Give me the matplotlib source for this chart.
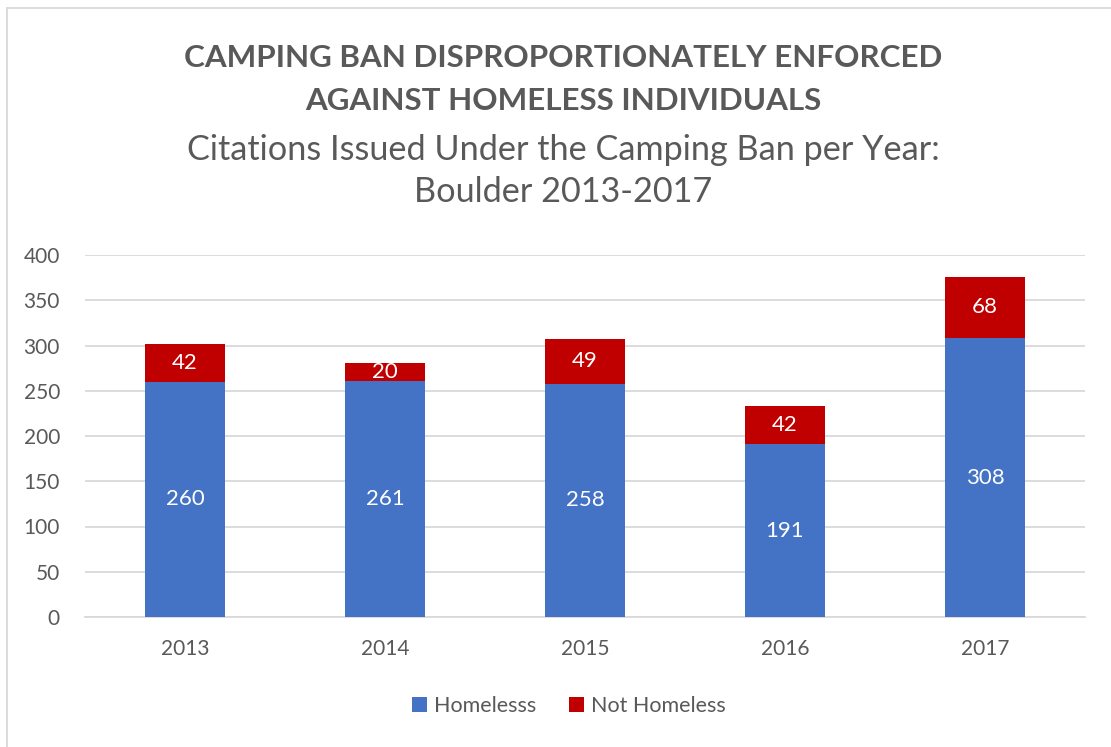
import matplotlib.pyplot as plt
from matplotlib.lines import Line2D

plt.rcParams['font.family'] = ['Lato', 'DejaVu Sans']

years = ['2013', '2014', '2015', '2016', '2017']
homeless = [260, 261, 258, 191, 308]
not_homeless = [42, 20, 49, 42, 68]

blue = '#4472C4'
red = '#C00000'
grey = '#595959'

fig = plt.figure(figsize=(11.11, 7.47), dpi=100)
ax = fig.add_axes([85 / 1111, 1 - 617 / 747, 1000 / 1111, (617 - 255) / 747])

x = range(len(years))
b1 = ax.bar(x, homeless, width=0.4, color=blue, label='Homelesss', zorder=3)
b2 = ax.bar(x, not_homeless, width=0.4, bottom=homeless, color=red,
            label='Not Homeless', zorder=3)
ax.bar_label(b1, label_type='center', color='white', fontsize=16)
ax.bar_label(b2, label_type='center', color='white', fontsize=16)

ax.set_xlim(-0.5, len(years) - 0.5)
ax.set_ylim(0, 400)
ax.set_yticks(range(0, 401, 50))
ax.set_xticks(list(x))
ax.set_xticklabels(years)
ax.yaxis.grid(True, color='#D9D9D9', linewidth=1.3, zorder=0)
ax.tick_params(axis='both', length=0, labelsize=15, colors=grey)
ax.tick_params(axis='y', pad=18)
ax.tick_params(axis='x', pad=16)
for s in ['top', 'right', 'left']:
    ax.spines[s].set_visible(False)
ax.spines['bottom'].set_color('#D9D9D9')
ax.spines['bottom'].set_linewidth(1.3)

fig.text(0.507, 1 - 58 / 747, 'CAMPING BAN DISPROPORTIONATELY ENFORCED',
         ha='center', va='center', fontsize=22.6, fontweight='bold', color=grey)
fig.text(0.507, 1 - 101 / 747, 'AGAINST HOMELESS INDIVIDUALS',
         ha='center', va='center', fontsize=22.6, fontweight='bold', color=grey)
fig.text(0.507, 1 - 150 / 747, 'Citations Issued Under the Camping Ban per Year:',
         ha='center', va='center', fontsize=24.7, color=grey)
fig.text(0.507, 1 - 192 / 747, 'Boulder 2013-2017',
         ha='center', va='center', fontsize=24.7, color=grey)

fig.legend(loc='center', bbox_to_anchor=(0.512, 1 - 706 / 747), ncol=2,
           frameon=False, fontsize=15.5, handlelength=0.7, handleheight=0.7,
           handletextpad=0.35, columnspacing=1.5, labelcolor=grey)

# chart border
fig.add_artist(Line2D([7 / 1111, 7 / 1111], [0, 1 - 8 / 747], color='#D9D9D9',
                      linewidth=1.3, transform=fig.transFigure))
fig.add_artist(Line2D([7 / 1111, 1], [1 - 8 / 747, 1 - 8 / 747], color='#D9D9D9',
                      linewidth=1.3, transform=fig.transFigure))

fig.savefig('out.png', dpi=100)
